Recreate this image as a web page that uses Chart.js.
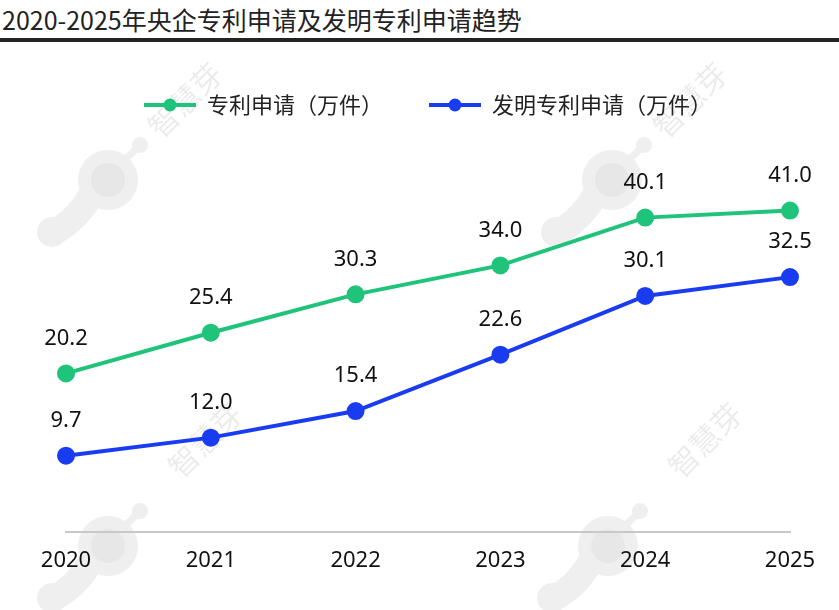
<!DOCTYPE html>
<html lang="zh-CN">
<head>
<meta charset="utf-8">
<script src="https://cdn.jsdelivr.net/npm/chart.js@4/dist/chart.umd.min.js"></script>
<style>
  html, body { margin: 0; padding: 0; background: #fff; }
  #title {
    width: 839px; height: 42px; box-sizing: border-box;
    padding: 0 0 0 2px;
    font: 25px/38px "Noto Sans CJK SC", "Noto Sans", sans-serif;
    color: #222;
    border-bottom: 4px solid #222;
  }
  #wrap { width: 839px; height: 568px; position: relative; }
</style>
</head>
<body>
<div id="title">2020-2025年央企专利申请及发明专利申请趋势</div>
<div id="wrap"><canvas id="chart"></canvas></div>
<script>
const years = ['2020', '2021', '2022', '2023', '2024', '2025'];
const patentApps = [20.2, 25.4, 30.3, 34.0, 40.1, 41.0];
const inventionApps = [9.7, 12.0, 15.4, 22.6, 30.1, 32.5];
const seriesNames = ['专利申请（万件）', '发明专利申请（万件）'];
const seriesColors = ['#1fc47a', '#1a3cf0'];

const numFont = '"Noto Sans", "Noto Sans CJK SC", sans-serif';
const cjkFont = '"Noto Sans CJK SC", "Noto Sans", sans-serif';

// small line-with-dot marker for the legend
function legendMarker(color) {
  const c = document.createElement('canvas');
  c.width = 52;
  c.height = 14;
  const g = c.getContext('2d');
  g.strokeStyle = color;
  g.lineWidth = 4;
  g.beginPath();
  g.moveTo(0, 7);
  g.lineTo(52, 7);
  g.stroke();
  g.fillStyle = color;
  g.beginPath();
  g.arc(26, 7, 6.5, 0, Math.PI * 2);
  g.fill();
  return c;
}

// faint background logo + text watermark
const watermark = {
  id: 'watermark',
  beforeDraw(chart) {
    const ctx = chart.ctx;
    ctx.save();
    ctx.lineCap = 'round';
    [[108, 138], [612, 138], [108, 504], [608, 504]].forEach(([x, y]) => {
      ctx.fillStyle = '#efefef';
      ctx.strokeStyle = '#efefef';
      ctx.lineWidth = 26;
      ctx.beginPath();
      ctx.moveTo(x - 54, y + 52);
      ctx.quadraticCurveTo(x - 30, y + 40, x - 14, y + 10);
      ctx.stroke();
      ctx.beginPath();
      ctx.arc(x - 56, y + 52, 15, 0, Math.PI * 2);
      ctx.fill();
      ctx.beginPath();
      ctx.arc(x, y, 30, 0, Math.PI * 2);
      ctx.fill();
      ctx.lineWidth = 7;
      ctx.beginPath();
      ctx.moveTo(x + 15, y - 18);
      ctx.lineTo(x + 32, y - 35);
      ctx.stroke();
      ctx.beginPath();
      ctx.arc(x + 32, y - 35, 8, 0, Math.PI * 2);
      ctx.fill();
      ctx.fillStyle = '#e7e7e7';
      ctx.beginPath();
      ctx.arc(x, y, 17, 0, Math.PI * 2);
      ctx.fill();
    });
    ctx.fillStyle = 'rgba(0,0,0,0.08)';
    ctx.font = '30px ' + cjkFont;
    ctx.textAlign = 'center';
    ctx.textBaseline = 'middle';
    [[185, 58], [690, 58], [205, 398], [705, 398]].forEach(([x, y]) => {
      ctx.save();
      ctx.translate(x, y);
      ctx.rotate(-Math.PI / 4);
      ctx.fillText('智慧芽', 0, 0);
      ctx.restore();
    });
    ctx.restore();
  }
};

const valueLabels = {
  id: 'valueLabels',
  afterDatasetsDraw(chart) {
    const ctx = chart.ctx;
    ctx.save();
    ctx.font = '22px ' + numFont;
    ctx.fillStyle = '#111';
    ctx.textAlign = 'center';
    ctx.textBaseline = 'middle';
    chart.data.datasets.forEach((ds, i) => {
      chart.getDatasetMeta(i).data.forEach((pt, j) => {
        ctx.fillText(ds.data[j].toFixed(1), pt.x, pt.y - 35);
      });
    });
    ctx.restore();
  }
};

new Chart(document.getElementById('chart'), {
  type: 'line',
  data: {
    labels: years,
    datasets: [
      {
        label: seriesNames[0],
        data: patentApps,
        borderColor: seriesColors[0],
        backgroundColor: seriesColors[0],
        borderWidth: 4,
        pointRadius: 7,
        pointHoverRadius: 7,
        tension: 0
      },
      {
        label: seriesNames[1],
        data: inventionApps,
        borderColor: seriesColors[1],
        backgroundColor: seriesColors[1],
        borderWidth: 4,
        pointRadius: 7,
        pointHoverRadius: 7,
        tension: 0
      }
    ]
  },
  options: {
    responsive: true,
    maintainAspectRatio: false,
    animation: false,
    layout: { padding: { top: 6, left: 66, right: 49, bottom: 20 } },
    plugins: {
      tooltip: { enabled: false },
      legend: {
        position: 'top',
        labels: {
          usePointStyle: true,
          pointStyleWidth: 52,
          padding: 46,
          color: '#222',
          font: { family: cjkFont, size: 22 },
          generateLabels: chart => chart.data.datasets.map((ds, i) => ({
            text: ds.label,
            pointStyle: legendMarker(seriesColors[i]),
            fillStyle: seriesColors[i],
            strokeStyle: seriesColors[i],
            lineWidth: 0,
            fontColor: '#222',
            hidden: false,
            datasetIndex: i
          }))
        }
      }
    },
    scales: {
      x: {
        offset: false,
        grid: { display: false, drawTicks: false },
        border: { display: true, color: '#c8c8c8', width: 2 },
        ticks: {
          padding: 16,
          color: '#111',
          font: { family: numFont, size: 22 },
          maxRotation: 0
        }
      },
      y: {
        display: false,
        min: 0,
        max: 51.8
      }
    }
  },
  plugins: [watermark, valueLabels]
});
</script>
</body>
</html>
